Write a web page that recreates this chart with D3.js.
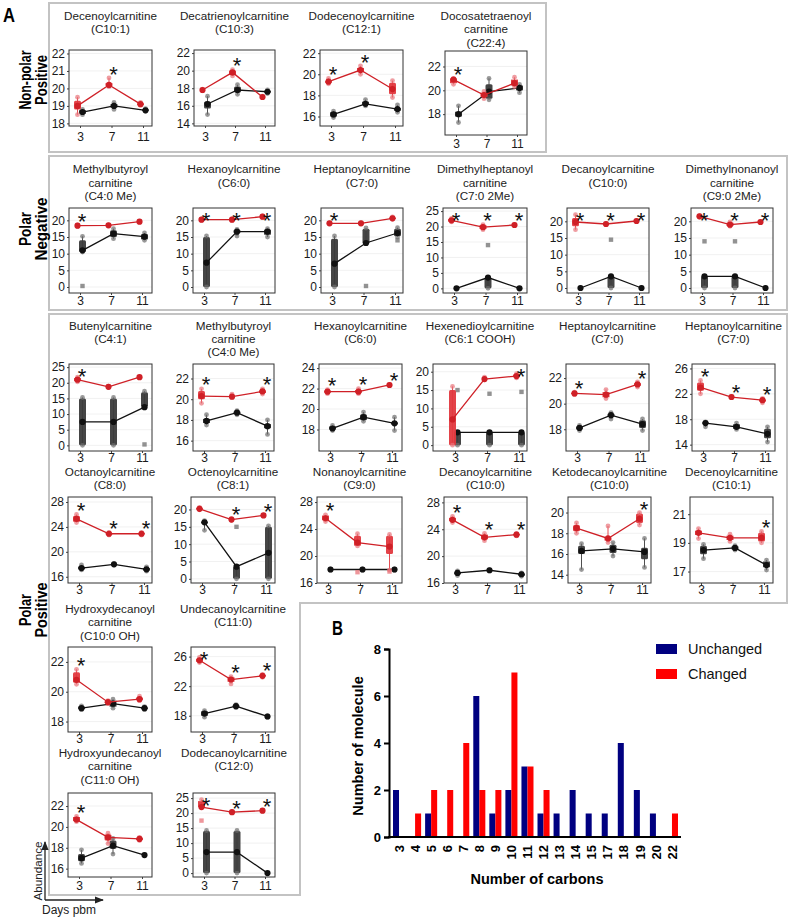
<!DOCTYPE html>
<html><head><meta charset="utf-8">
<script src="https://cdn.jsdelivr.net/npm/d3@7"></script>
<style>body{margin:0;background:#fff;} svg{display:block;font-family:"Liberation Sans",Arial,sans-serif;}</style>
</head><body><svg id="c" width="791" height="919"></svg>
<script>
// ---------- Panel A data (one entry per small multiple) ----------
const days = [3, 7, 11];
const titles = [
  ["Decenoylcarnitine","(C10:1)"],["Decatrienoylcarnitine","(C10:3)"],["Dodecenoylcarnitine","(C12:1)"],["Docosatetraenoyl","carnitine","(C22:4)"],
  ["Methylbutyroyl","carnitine","(C4:0 Me)"],["Hexanoylcarnitine","(C6:0)"],["Heptanoylcarnitine","(C7:0)"],["Dimethylheptanoyl","carnitine","(C7:0 2Me)"],["Decanoylcarnitine","(C10:0)"],["Dimethylnonanoyl","carnitine","(C9:0 2Me)"],
  ["Butenylcarnitine","(C4:1)"],["Methylbutyroyl","carnitine","(C4:0 Me)"],["Hexanoylcarnitine","(C6:0)"],["Hexenedioylcarnitine","(C6:1 COOH)"],["Heptanoylcarnitine","(C7:0)"],["Heptanoylcarnitine","(C7:0)"],
  ["Octanoylcarnitine","(C8:0)"],["Octenoylcarnitine","(C8:1)"],["Nonanoylcarnitine","(C9:0)"],["Decanoylcarnitine","(C10:0)"],["Ketodecanoylcarnitine","(C10:0)"],["Decenoylcarnitine","(C10:1)"],
  ["Hydroxydecanoyl","carnitine","(C10:0 OH)"],["Undecanoylcarnitine","(C11:0)"],
  ["Hydroxyundecanoyl","carnitine","(C11:0 OH)"],["Dodecanoylcarnitine","(C12:0)"]
];
const yDomains = [
  [17.85,22.2],[13.7,22.35],[15.1,22.3],[16.25,23.3],
  [-1.8,23.7],[-1.8,23.7],[-1.8,23.7],[-1.5,26],[-1.5,24],[-1.5,24],
  [-1.8,26],[15.0,23.4],[15.9,24.4],[-1.6,22.1],[16.3,23.1],[13.0,26.7],
  [15.0,28.8],[-1.2,23.6],[16.0,28.75],[16.0,28.8],[13.2,21.5],[16.2,22.2],
  [17.3,23.0],[15.8,27.3],
  [15.2,23.25],[-1.3,26.7]
];
const yTicks = [
  [18,19,20,21,22],[14,16,18,20,22],[16,18,20,22],[18,20,22],
  [0,5,10,15,20],[0,5,10,15,20],[0,5,10,15,20],[0,5,10,15,20,25],[0,5,10,15,20],[0,5,10,15,20],
  [0,5,10,15,20,25],[16,18,20,22],[18,20,22,24],[0,5,10,15,20],[18,20,22],[14,18,22,26],
  [16,20,24,28],[0,5,10,15,20],[16,20,24,28],[16,20,24,28],[14,16,18,20],[17,19,21],
  [18,20,22],[18,22,26],
  [16,18,20,22],[0,5,10,15,20,25]
];
// medians of the infected (red) and control (black) groups at days 3, 7, 11
const redMedian = [
  [19.0,20.2,19.1],[17.8,19.8,17.0],[19.3,20.4,18.6],[20.9,19.6,20.6],
  [18.4,18.5,19.6],[20.2,20.2,21.1],[19.1,19.1,20.6],[22.0,19.8,20.5],[19.8,19.2,20.1],[21.5,19.0,19.8],
  [21.0,18.7,21.8],[20.3,20.25,20.75],[21.7,21.7,22.35],[7.0,18.0,18.8],[20.8,20.7,21.5],[23.0,21.5,21.0],
  [25.3,22.9,22.9],[20.2,17.1,18.3],[25.6,22.0,21.4],[25.4,22.8,23.2],[18.5,17.5,19.4],[19.7,19.35,19.35],
  [20.8,19.3,19.5],[25.5,22.9,23.4],
  [20.7,19.0,18.85],[22.0,20.3,20.8]
];
const blackMedian = [
  [18.65,19.0,18.75],[16.2,17.8,17.6],[16.2,17.2,16.7],[18.0,19.9,20.2],
  [11.0,16.0,15.1],[7.3,16.6,16.6],[7.0,13.2,16.2],[0,3.5,0],[0,3.5,0],[3.5,3.5,0],
  [7.5,7.5,12.2],[17.9,18.7,17.4],[18.1,19.2,18.6],[3.5,3.5,3.5],[18.1,19.1,18.4],[17.4,16.8,15.7],
  [17.4,18.0,17.2],[16.3,3.5,7.5],[18.0,18.0,18.0],[17.5,17.9,17.3],[16.3,16.5,16.2],[18.5,18.65,17.45],
  [18.9,19.2,18.9],[18.3,19.3,17.9],
  [17.0,18.2,17.3],[7.0,7.0,0]
];
// boxes per day: [min, q1, q3, max]
const redBox = [
  [[18.5,18.8,19.3,19.5],[20.1,20.15,20.3,20.6],[19.05,19.05,19.15,19.2]],
  [[17.7,17.75,17.85,17.9],[19.4,19.5,20.0,20.1],[16.95,17.0,17.05,17.1]],
  [[19.1,19.2,19.35,19.6],[20.0,20.2,20.6,20.8],[17.8,18.1,19.2,19.4]],
  [[20.5,20.6,21.0,21.0],[19.3,19.45,19.8,19.9],[20.3,20.4,20.9,21.1]],
  [[18.2,18.3,18.5,18.6],[18.4,18.45,18.55,18.6],[19.5,19.55,19.65,19.7]],
  [[20.0,20.1,20.3,20.4],[20.0,20.1,20.3,20.4],[20.9,21.0,21.2,21.3]],
  [[19.0,19.05,19.15,19.2],[19.0,19.05,19.15,19.2],[20.3,20.4,20.8,21.0]],
  [[21.5,21.6,22.4,22.6],[19.0,19.2,20.4,20.6],[20.3,20.4,20.6,20.7]],
  [[17.5,18.5,21.0,22.0],[19.1,19.15,19.3,19.3],[20.0,20.05,20.15,20.2]],
  [[21.3,21.4,21.6,21.7],[18.5,18.6,19.6,19.8],[19.7,19.75,19.85,19.9]],
  [[20.3,20.5,21.5,21.8],[18.5,18.6,18.8,18.9],[21.7,21.75,21.85,21.9]],
  [[19.6,20.0,20.8,21.0],[20.2,20.22,20.3,20.5],[20.5,20.6,20.85,21.0]],
  [[21.5,21.6,21.8,21.9],[21.5,21.6,21.85,22.0],[22.3,22.32,22.4,22.4]],
  [[0,0,15,16],[17.8,17.9,18.2,18.5],[18.3,18.5,19.2,19.5]],
  [[20.7,20.75,20.85,20.9],[20.4,20.5,20.9,21.1],[21.3,21.4,21.6,21.7]],
  [[22.0,22.5,23.8,24.1],[21.4,21.45,21.55,21.6],[20.6,20.8,21.1,21.3]],
  [[24.7,24.8,25.8,26.0],[22.7,22.8,23.0,23.1],[22.7,22.8,23.0,23.1]],
  [[19.9,20.0,20.4,20.6],[16.9,17.0,17.3,17.4],[18.2,18.25,18.35,18.4]],
  [[25.1,25.3,26.0,26.1],[21.5,21.5,23.0,23.3],[17.9,20.3,23.0,23.2]],
  [[25.0,25.2,25.7,25.9],[22.3,22.5,23.2,23.4],[23.0,23.1,23.3,23.4]],
  [[18.0,18.2,18.8,19.0],[17.1,17.3,17.6,18.7],[18.8,19.0,19.9,20.0]],
  [[19.3,19.55,19.85,20.0],[19.1,19.2,19.5,19.6],[19.0,19.1,19.7,19.8]],
  [[20.5,20.6,21.3,21.5],[19.2,19.25,19.35,19.4],[19.4,19.45,19.6,19.7]],
  [[25.2,25.3,25.7,25.9],[22.3,22.6,23.2,23.3],[23.2,23.3,23.5,23.6]],
  [[20.5,20.55,20.95,21.0],[18.4,18.7,19.3,19.4],[18.7,18.75,18.95,19.0]],
  [[22.0,22.0,24.0,24.5],[20.2,20.25,20.35,20.4],[20.7,20.75,20.85,20.9]]
];
const blackBox = [
  [[18.5,18.55,18.75,18.8],[18.8,18.9,19.1,19.2],[18.7,18.72,18.8,18.85]],
  [[15.0,15.7,16.5,17.1],[17.3,17.5,18.2,18.4],[17.4,17.5,17.7,17.8]],
  [[15.9,16.0,16.4,16.5],[17.0,17.1,17.4,17.6],[16.4,16.55,16.8,17.1]],
  [[17.3,17.8,18.2,18.7],[19.2,19.3,20.5,21.0],[19.8,20.0,20.4,20.5]],
  [[10.5,10.5,14.0,15.2],[14.5,15.0,17.0,17.5],[14.0,14.3,15.8,16.2]],
  [[0,0,15,15.3],[15.3,16.3,17.0,17.3],[15.0,15.7,17.2,17.5]],
  [[0,0,14.5,15.3],[13.0,13.0,17.5,17.7],[15.0,15.2,17.5,17.8]],
  [[0,0,0,0],[0,0,3.5,3.5],[0,0,0,0]],
  [[0,0,0,0],[0,0,3.5,3.5],[0,0,0,0]],
  [[0,0,3.5,3.5],[0,0,3.5,3.5],[0,0,0,0]],
  [[0,0,15,15.3],[0,0,15,15.3],[12,12.3,17,17.3]],
  [[17.5,17.7,18.1,18.5],[18.5,18.6,18.8,18.9],[16.6,17.2,17.6,18.0]],
  [[17.9,18.0,18.3,18.4],[18.8,18.9,19.5,19.7],[17.9,18.5,18.7,19.2]],
  [[0,0,3.5,3.5],[0,0,3.5,3.5],[0,0,3.5,3.5]],
  [[17.9,18.0,18.2,18.3],[18.8,19.0,19.2,19.3],[17.9,18.1,18.7,18.8]],
  [[16.8,17.3,17.5,17.6],[16.4,16.5,17.2,17.4],[14.4,15.0,16.5,16.8]],
  [[17.1,17.2,17.6,17.9],[17.9,17.95,18.05,18.1],[16.9,17.0,17.4,17.6]],
  [[14.0,16.0,16.5,16.8],[0,0,3.5,3.5],[0,0,15,15.3]],
  [[17.9,17.95,18.05,18.1],[17.9,17.95,18.05,18.1],[17.9,17.95,18.05,18.1]],
  [[17.1,17.3,17.6,17.8],[17.8,17.85,17.95,18.0],[17.0,17.1,17.4,17.5]],
  [[14.5,16.0,16.8,17.0],[15.8,16.1,16.9,17.1],[14.7,15.5,16.6,17.5]],
  [[17.9,18.2,18.8,18.9],[18.5,18.55,18.75,18.8],[17.1,17.3,17.7,17.8]],
  [[18.8,18.85,19.0,19.05],[18.9,19.0,19.4,19.5],[18.8,18.85,18.95,19.0]],
  [[17.8,18.0,18.6,18.7],[19.1,19.2,19.4,19.5],[17.8,17.85,17.95,18.0]],
  [[16.5,16.7,17.4,17.8],[17.4,17.9,18.7,18.9],[17.25,17.28,17.32,17.35]],
  [[0,0,14,14.2],[0,0,14,14.2],[0,0,0,0]]
];
// extra single observations [panel, group, day, value]
const outliers = [
  [4,"b",3,0.3],[6,"b",7,0.3],[6,"b",11,14],[7,"b",7,14],[8,"b",7,14.5],[9,"b",3,14],[9,"b",7,14],
  [10,"b",11,0.3],[13,"b",3,15],[13,"b",7,14],[13,"b",11,14.5],[17,"b",7,15],
  [18,"r",7,17.6],[18,"r",11,17.7],[25,"r",3,17.5]
];
const stars = [
  [7],[7],[3,7],[3],
  [3],[3,7,11],[3],[3,7,11],[3,7,11],[3,7,11],
  [3],[3,11],[3,7,11],[11],[3,11],[3,7,11],
  [3,7,11],[7,11],[3],[3,7,11],[11],[11],
  [3],[3,7,11],
  [3],[3,7,11]
];
// ---------- Panel B data ----------
const carbons = ["3","4","5","6","7","8","9","10","11","12","13","14","15","17","18","19","20","22"];
const unchanged = [2,0,1,0,0,6,1,2,3,1,1,2,1,1,4,2,1,0];
const changed  = [0,1,2,2,4,2,2,7,3,2,0,0,0,0,0,0,0,1];
const bSeries = ["Unchanged","Changed"];
const bTicks = [0,2,4,6,8];

// ---------- layout (pixel frames): [left, top, right, bottom, x(3), x(11), tickOffset, titleY] ----------
const layout = [
  [69,50,152,126,80,143,14,20],[194,50,275,126,205,265,14,20],[320,50,403,126,331,395,14,20],[445,51,527,135,456,517,12,20],
  [69,208,152,293,80,142,11,173.3],[193,208,275,293,204,265,11,173.3],[321,208,403,293,332,395,11,173.3],[443,208,527,293,454,517,11,173.3],[567,208,649,293,578,639,11,173.3],[691,208,773,293,702,763,11,173.3],
  [69,364,152,451,80,142,10,329.5],[193,364,274,451,204,265,10,329.5],[319,364,402,451,330,392,10,329.5],[433,364,527,451,455,519,10,329.5],[566,364,649,451,577,640,10,329.5],[692,364,775,451,703,765,10,329.5],
  [68,497,152,583,79,144,10,476],[191,497,275,583,202,266,10,476],[317,497,402,583,328,392,10,476],[444,497,527,583,455,519,10,476],[568,497,651,583,579,642,10,476],[690,497,773,583,701,764,10,476],
  [68,647,152,732,79,142,10,613],[191,647,275,732,202,265,10,613],
  [68,793,152,877,79,142,12,757]  ,[193,793,275,877,204,265,12,757]
];

const svg = d3.select("#c");
const RED = "#cf2027", RED_FILL = "#e2393f", RED_PT = "#e8737a";
const BLK = "#111111", BLK_FILL = "#3b3b3b", BLK_PT = "#6e6e6e";

// group boxes
svg.append("rect").attr("x",49).attr("y",3).attr("width",497).attr("height",149)
  .attr("fill","none").attr("stroke","#c3c3c3").attr("stroke-width",2);
svg.append("rect").attr("x",49).attr("y",156).attr("width",738).attr("height",154)
  .attr("fill","none").attr("stroke","#c3c3c3").attr("stroke-width",2);
svg.append("path").attr("d","M49,314H787V603H300V895H49Z")
  .attr("fill","none").attr("stroke","#c3c3c3").attr("stroke-width",2);

// Letters
svg.append("text").attr("x",3).attr("y",22).attr("font-size",21).attr("font-weight","bold")
  .attr("textLength",12).attr("lengthAdjust","spacingAndGlyphs").text("A");
svg.append("text").attr("x",332).attr("y",635).attr("font-size",21).attr("font-weight","bold")
  .attr("textLength",11).attr("lengthAdjust","spacingAndGlyphs").text("B");

// Row labels
const rowLabels = [
  {cy:80, lines:["Non-polar","Positive"], lens:[59,50]},
  {cy:229, lines:["Polar","Negative"], lens:[34,63]},
  {cy:610, lines:["Polar","Positive"], lens:[32,55]}
];
rowLabels.forEach(r=>{
  r.lines.forEach((t,k)=>{
    svg.append("text").attr("transform",`translate(${k===0?31:46.5},${r.cy}) rotate(-90)`)
      .attr("text-anchor","middle").attr("font-size",16).attr("font-weight","bold")
      .attr("textLength",r.lens[k]).attr("lengthAdjust","spacingAndGlyphs").text(t);
  });
});

// small multiples
layout.forEach((L,i)=>{
  const [l,t,r,b,x3,x11,tOff,ty] = L;
  const x = d3.scaleLinear().domain([3,11]).range([x3,x11]);
  const y = d3.scaleLinear().domain(yDomains[i]).range([b,t]);
  const g = svg.append("g");
  // title
  titles[i].forEach((line,k)=>{
    g.append("text").attr("x",(l+r)/2).attr("y",ty+k*13.4).attr("text-anchor","middle")
      .attr("font-size",11.7).attr("fill","#222").text(line);
  });
  // grid
  g.selectAll("line.grid").data(yTicks[i]).join("line").attr("class","grid")
    .attr("x1",l).attr("x2",r).attr("y1",d=>y(d)).attr("y2",d=>y(d))
    .attr("stroke","#ededed").attr("stroke-width",0.8);
  // axes
  const ya = g.append("g").attr("transform",`translate(${l},0)`)
    .call(d3.axisLeft(y).tickValues(yTicks[i]).tickSize(2).tickPadding(2).tickFormat(d3.format("d")));
  const xa = g.append("g").attr("transform",`translate(0,${b})`)
    .call(d3.axisBottom(x).tickValues(days).tickSize(2).tickPadding(tOff-10));
  [ya,xa].forEach(a=>{
    a.select(".domain").remove();
    a.selectAll(".tick line").attr("stroke","#444");
    a.selectAll("text").attr("font-size",12).attr("fill","#1a1a1a").attr("font-family","Liberation Sans, Arial, sans-serif");
  });
  // series
  const groups = [
    {key:"b", med:blackMedian[i], box:blackBox[i], dx:2.5, line:BLK, fill:BLK_FILL, pt:BLK_PT},
    {key:"r", med:redMedian[i], box:redBox[i], dx:-2.5, line:RED, fill:RED_FILL, pt:RED_PT}
  ];
  groups.forEach(s=>{
    const gg = g.append("g");
    const bw = 7;
    days.forEach((d,k)=>{
      const [mn,q1,q3,mx] = s.box[k];
      const cx = x(d)+s.dx;
      gg.append("line").attr("x1",cx).attr("x2",cx).attr("y1",y(mn)).attr("y2",y(mx))
        .attr("stroke",s.fill).attr("stroke-width",0.9);
      const h = Math.max(y(q1)-y(q3),0);
      if(h>1.2){
        gg.append("rect").attr("x",cx-bw/2).attr("y",y(q3)).attr("width",bw).attr("height",h)
          .attr("fill",s.fill).attr("rx",h>6?1.5:0).attr("opacity",0.95);
      }
      [mn,mx].forEach(v=>{
        gg.append("circle").attr("cx",cx).attr("cy",y(v)).attr("r",2.4)
          .attr("fill",s.pt).attr("opacity",0.7);
      });
    });
    outliers.filter(o=>o[0]===i && o[1]===s.key).forEach(o=>{
      gg.append("rect").attr("x",x(o[2])+s.dx-2.2).attr("y",y(o[3])-2.2).attr("width",4.4).attr("height",4.4)
        .attr("fill",s.pt).attr("opacity",0.75);
    });
    const line = d3.line().x((v,k)=>x(days[k])+s.dx).y(v=>y(v));
    gg.append("path").attr("d",line(s.med)).attr("fill","none").attr("stroke",s.line).attr("stroke-width",1.3);
    gg.selectAll("circle.med").data(s.med).join("circle").attr("class","med")
      .attr("cx",(v,k)=>x(days[k])+s.dx).attr("cy",v=>y(v)).attr("r",3.1).attr("fill",s.line);
  });
  // frame
  g.append("rect").attr("x",l).attr("y",t).attr("width",r-l).attr("height",b-t)
    .attr("fill","none").attr("stroke","#333").attr("stroke-width",1);
  // stars
  stars[i].forEach(d=>{
    const k = days.indexOf(d);
    const top = y(redBox[i][k][3]);
    const cy = Math.max(t+7, top-9);
    g.append("text").attr("x",x(d)+2).attr("y",cy+12.6).attr("text-anchor","middle")
      .attr("font-size",22).attr("fill","#111").text("*");
  });
});

// Abundance / Days pbm guide
const defs = svg.append("defs");
defs.append("marker").attr("id","ah").attr("viewBox","0 0 10 10").attr("refX",9).attr("refY",5)
  .attr("markerWidth",7).attr("markerHeight",7).attr("orient","auto")
  .append("path").attr("d","M0,1L10,5L0,9Z").attr("fill","#222");
svg.append("line").attr("x1",45).attr("y1",900).attr("x2",45).attr("y2",842)
  .attr("stroke","#222").attr("stroke-width",1.3).attr("marker-end","url(#ah)");
svg.append("line").attr("x1",45).attr("y1",900).attr("x2",103).attr("y2",900)
  .attr("stroke","#222").attr("stroke-width",1.3).attr("marker-end","url(#ah)");
svg.append("text").attr("transform","translate(41.5,871) rotate(-90)").attr("text-anchor","middle")
  .attr("font-size",11.7).attr("fill","#222").text("Abundance");
svg.append("text").attr("x",42).attr("y",914).attr("font-size",12).attr("fill","#222").text("Days pbm");

// ---------- Panel B ----------
const xB = d3.scaleBand().domain(carbons).range([391,680]).paddingInner(0.25).paddingOuter(0.125);
const xSub = d3.scaleBand().domain(bSeries).range([0,xB.bandwidth()]);
const yB = d3.scaleLinear().domain([0,8]).range([837,649]);
const colorB = d3.scaleOrdinal().domain(bSeries).range(["#000080","#ff0000"]);
const gB = svg.append("g");
const rows = carbons.map((c,k)=>({c, vals:[{s:"Unchanged",v:unchanged[k]},{s:"Changed",v:changed[k]}]}));
gB.selectAll("g.cat").data(rows).join("g").attr("class","cat")
  .attr("transform",d=>`translate(${xB(d.c)},0)`)
  .selectAll("rect").data(d=>d.vals).join("rect")
  .attr("x",d=>xSub(d.s)).attr("width",xSub.bandwidth())
  .attr("y",d=>yB(d.v)).attr("height",d=>yB(0)-yB(d.v)).attr("fill",d=>colorB(d.s));
const yAx = gB.append("g").attr("transform","translate(389,0)")
  .call(d3.axisLeft(yB).tickValues(bTicks).tickSize(5).tickPadding(3));
yAx.select(".domain").attr("stroke-width",2).attr("stroke","#000");
yAx.selectAll(".tick line").attr("stroke-width",2);
yAx.selectAll("text").attr("font-size",13).attr("font-weight","bold").attr("fill","#000")
  .attr("font-family","Liberation Sans, Arial, sans-serif");
const xAx = gB.append("g").attr("transform","translate(0,837)")
  .call(d3.axisBottom(xB).tickSize(0));
xAx.select(".domain").remove();
xAx.selectAll("text").attr("transform","rotate(-90)").attr("text-anchor","end")
  .attr("x",-8).attr("y",0).attr("dy","0.36em")
  .attr("font-size",13).attr("font-weight","bold").attr("fill","#000")
  .attr("font-family","Liberation Sans, Arial, sans-serif");
gB.append("line").attr("x1",388).attr("x2",681).attr("y1",837).attr("y2",837)
  .attr("stroke","#000").attr("stroke-width",2);
gB.append("text").attr("x",537).attr("y",884).attr("text-anchor","middle")
  .attr("font-size",14.5).attr("font-weight","bold").text("Number of carbons");
gB.append("text").attr("transform","translate(363,746) rotate(-90)").attr("text-anchor","middle")
  .attr("font-size",14.5).attr("font-weight","bold").text("Number of molecule");
const leg = gB.selectAll("g.leg").data(bSeries).join("g").attr("class","leg")
  .attr("transform",(d,k)=>`translate(656,${644+k*25})`);
leg.append("rect").attr("width",21).attr("height",10).attr("fill",d=>colorB(d));
leg.append("text").attr("x",32).attr("y",10).attr("font-size",14.5).attr("fill","#111").text(d=>d);
</script></body></html>
